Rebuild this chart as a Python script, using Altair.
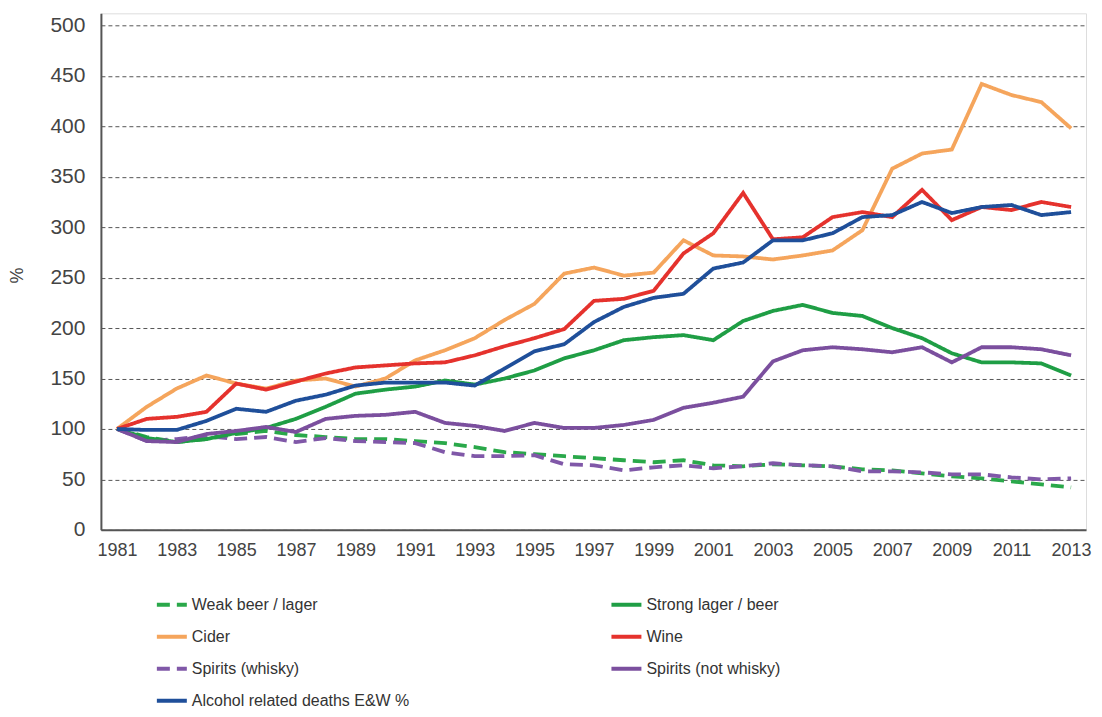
import altair as alt
import pandas as pd

years = list(range(1981, 2014))

series_names = [
    "Weak beer / lager",
    "Strong lager / beer",
    "Cider",
    "Wine",
    "Spirits (whisky)",
    "Spirits (not whisky)",
    "Alcohol related deaths E&W %",
]

weak_beer = [100, 92, 87, 90, 95, 98, 94, 92, 90, 90, 88, 86, 82, 77, 75, 73, 71,
             69, 67, 69, 64, 63, 65, 64, 63, 60, 59, 56, 53, 51, 48, 45, 42]
strong_lager = [100, 91, 87, 90, 96, 101, 110, 122, 135, 139, 142, 148, 144, 150, 158, 170, 178,
                188, 191, 193, 188, 207, 217, 223, 215, 212, 200, 190, 175, 166, 166, 165, 153]
cider = [100, 122, 140, 153, 145, 140, 148, 150, 142, 150, 168, 178, 190, 208, 224, 254, 260,
         252, 255, 287, 272, 271, 268, 272, 277, 297, 358, 373, 377, 442, 431, 424, 398]
wine = [100, 110, 112, 117, 145, 139, 147, 155, 161, 163, 165, 166, 173, 182, 190, 199, 227,
        229, 237, 274, 294, 334, 288, 290, 310, 315, 310, 337, 307, 320, 317, 325, 320]
spirits_whisky = [100, 88, 90, 93, 90, 92, 87, 91, 88, 87, 86, 77, 73, 73, 74, 65, 64,
                  59, 62, 64, 61, 63, 66, 64, 63, 58, 58, 57, 55, 55, 52, 50, 51]
spirits_not_whisky = [100, 88, 87, 95, 98, 102, 97, 110, 113, 114, 117, 106, 103, 98, 106, 101, 101,
                      104, 109, 121, 126, 132, 167, 178, 181, 179, 176, 181, 166, 181, 181, 179, 173]
deaths = [100, 99, 99, 108, 120, 117, 128, 134, 143, 146, 146, 146, 143, 160, 177, 184, 206,
          221, 230, 234, 259, 265, 287, 287, 294, 310, 312, 325, 314, 320, 322, 312, 315]

x_tick_values = list(range(1981, 2014, 2))
y_tick_values = list(range(0, 501, 50))

colors = ["#2aa84a", "#1f9e45", "#f5a55c", "#e5322d", "#8058a8", "#7b4f9e", "#1f4f9a"]
dashes = [[13, 7], [1, 0], [1, 0], [1, 0], [13, 7], [1, 0], [1, 0]]

# legend fills column by column: order entries so the grid reads row by row
legend_order = [0, 2, 4, 6, 1, 3, 5]
legend_names = [series_names[i] for i in legend_order]
legend_colors = [colors[i] for i in legend_order]
legend_dashes = [dashes[i] for i in legend_order]

all_values = [weak_beer, strong_lager, cider, wine, spirits_whisky, spirits_not_whisky, deaths]
draw_order = [0, 4, 1, 5, 2, 3, 6]
rows = []
for i in draw_order:
    for yr, v in zip(years, all_values[i]):
        rows.append({"year": yr, "value": v, "series": series_names[i]})
df = pd.DataFrame(rows)

legend = alt.Legend(
    title=None,
    orient="none",
    legendX=54,
    legendY=575,
    columns=2,
    columnPadding=194,
    rowPadding=7,
    symbolType="stroke",
    symbolSize=900,
    symbolStrokeWidth=4,
    labelFontSize=16,
    labelFont="Liberation Sans",
    labelColor="#333333",
    labelOffset=3,
    labelLimit=400,
)

chart = (
    alt.Chart(df)
    .mark_line(strokeWidth=3.8)
    .encode(
        x=alt.X(
            "year:Q",
            scale=alt.Scale(domain=[1980.46, 2013.5], nice=False, zero=False),
            axis=alt.Axis(
                values=x_tick_values,
                format="d",
                grid=False,
                ticks=False,
                domainColor="#555555",
                domainWidth=2,
                labelFontSize=18,
                labelFont="Liberation Sans",
                labelColor="#444444",
                labelPadding=12,
                title=None,
            ),
        ),
        y=alt.Y(
            "value:Q",
            scale=alt.Scale(domain=[0, 512], nice=False),
            axis=alt.Axis(
                values=y_tick_values,
                grid=True,
                gridDash=[4, 3],
                gridColor="#555555",
                gridWidth=1,
                ticks=False,
                domainColor="#555555",
                domainWidth=2,
                labelFontSize=21,
                labelFont="Liberation Sans",
                labelColor="#444444",
                labelPadding=16,
                title="%",
                titleFontSize=18,
                titleFont="Liberation Sans",
                titleFontWeight="normal",
                titleColor="#444444",
                titleAngle=270,
                titleX=-83,
                titleY=262,
                titleAlign="center",
                titleBaseline="middle",
            ),
        ),
        color=alt.Color(
            "series:N",
            scale=alt.Scale(domain=legend_names, range=legend_colors),
            legend=legend,
        ),
        strokeDash=alt.StrokeDash(
            "series:N",
            scale=alt.Scale(domain=legend_names, range=legend_dashes),
            legend=legend,
        ),
    )
    .properties(
        width=986,
        height=517,
        autosize=alt.AutoSizeParams(type="none"),
        padding={"left": 93, "top": 5, "right": 8, "bottom": 186},
    )
    .configure_view(stroke=None)
    .configure(background="white")
)

chart.save("out.html", embed_options={"renderer": "svg", "actions": False})
